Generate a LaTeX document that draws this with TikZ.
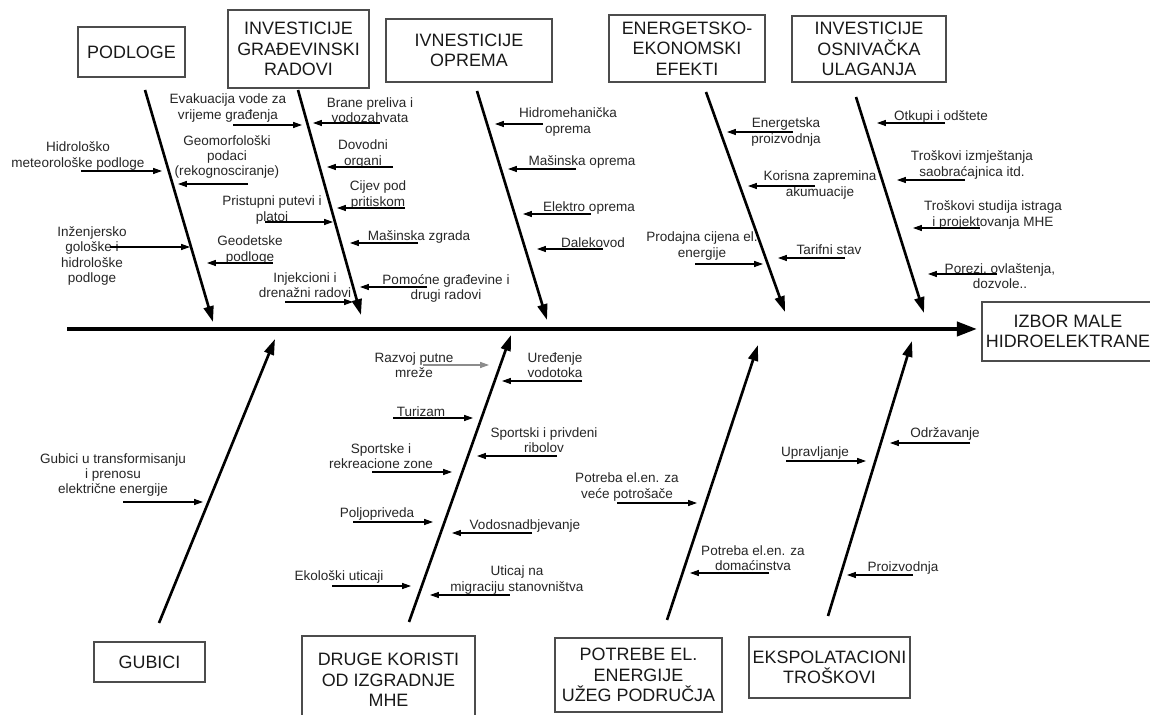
\documentclass[tikz,border=0pt]{standalone}
\usepackage{fontspec}
\setmainfont{Liberation Sans}
\usetikzlibrary{arrows.meta}
\tikzset{
  box/.style={draw=black!70, line width=0.7pt, align=center, inner sep=0pt, text=black!90, font=\fontsize{10.2}{11.6}\selectfont},
  lbl/.style={align=center, inner sep=0pt, text=black!85, font=\fontsize{7.7}{8.6}\selectfont},
  bone/.style={line width=1.5pt, -{Triangle[length=9pt,width=5.6pt]}},
  cause/.style={line width=0.6pt, -{Triangle[length=5pt,width=3.4pt]}},
  spine/.style={line width=2.3pt, -{Triangle[length=11.5pt,width=8pt]}}
}

\begin{document}
\begin{tikzpicture}[x=0.02cm, y=-0.02cm]
\useasboundingbox[fill=white] (0,0) rectangle (1150,715);
% kategorije
\node[box, minimum width=2.14cm, minimum height=1.00cm] (podloge) at (131.5,52) {PODLOGE};
\node[box, minimum width=2.82cm, minimum height=1.56cm] (gradj) at (298.5,49) {INVESTICIJE\\GRAĐEVINSKI\\RADOVI};
\node[box, minimum width=3.32cm, minimum height=1.26cm] (oprema) at (469,50.5) {IVNESTICIJE\\OPREMA};
\node[box, minimum width=3.12cm, minimum height=1.34cm] (efekti) at (687,48.5) {ENERGETSKO-\\EKONOMSKI\\EFEKTI};
\node[box, minimum width=3.08cm, minimum height=1.32cm] (osniv) at (869,49) {INVESTICIJE\\OSNIVAČKA\\ULAGANJA};
\node[box, minimum width=3.44cm, minimum height=1.18cm] (izbor) at (1068,331.5) {IZBOR MALE\\HIDROELEKTRANE};
\node[box, minimum width=2.22cm, minimum height=0.80cm] (gubici) at (149.5,662) {GUBICI};
\node[box, minimum width=3.46cm, minimum height=1.76cm] (druge) at (388.5,680) {DRUGE KORISTI\\OD IZGRADNJE\\MHE};
\node[box, minimum width=3.34cm, minimum height=1.48cm] (potrebe) at (638.5,675) {POTREBE EL.\\ENERGIJE\\UŽEG PODRUČJA};
\node[box, minimum width=3.22cm, minimum height=1.22cm] (ekspl) at (829.5,667.5) {EKSPOLATACIONI\\TROŠKOVI};

% kosti
\coordinate (s0) at (67,329);
\coordinate (s1) at (977,329);
\coordinate (a1) at (145,90);  \coordinate (a2) at (213,322);
\coordinate (b1) at (298,90);  \coordinate (b2) at (361,315);
\coordinate (c1) at (477,91);  \coordinate (c2) at (547,320);
\coordinate (d1) at (706,92);  \coordinate (d2) at (785,312);
\coordinate (e1) at (856,97);  \coordinate (e2) at (924,313);
\coordinate (f1) at (159,623); \coordinate (f2) at (275,339);
\coordinate (g1) at (409,622); \coordinate (g2) at (511,335);
\coordinate (h1) at (667,620); \coordinate (h2) at (758,345);
\coordinate (i1) at (828,616); \coordinate (i2) at (912,341);
\draw[spine] (s0) -- (s1);
\foreach \p in {a,b,c,d,e,f,g,h,i}
  \draw[bone] (\p1) -- (\p2);

% podloge
\node[lbl] (hidro) at (78,156) {Hidrološko\\meteorološke podloge};
\node[lbl] (geomorf) at (227,157) {Geomorfološki\\podaci\\(rekognosciranje)};
\node[lbl] (inzenj) at (92,256) {Inženjersko\\gološke i\\hidrološke\\podloge};
\node[lbl] (geodet) at (250,250) {Geodetske\\podloge};
\coordinate (a11) at (81,171);  \coordinate (a12) at (162,171);
\coordinate (a21) at (248,184); \coordinate (a22) at (178,184);
\coordinate (a31) at (110,247); \coordinate (a32) at (190,247);
\coordinate (a41) at (273,263); \coordinate (a42) at (207,263);
% gradjevinski radovi
\node[lbl] (evak) at (228,108) {Evakuacija vode za\\vrijeme građenja};
\node[lbl] (pristup) at (272,210) {Pristupni putevi i\\platoi};
\node[lbl] (injek) at (305,285) {Injekcioni i\\drenažni radovi};
\node[lbl] (brane) at (370,110) {Brane preliva i\\vodozahvata};
\node[lbl] (dovod) at (363,154) {Dovodni\\organi};
\node[lbl] (cijev) at (378,195) {Cijev pod\\pritiskom};
\node[lbl] (zgrada) at (419,237) {Mašinska zgrada};
\node[lbl] (pomoc) at (446,288) {Pomoćne građevine i\\drugi radovi};
\coordinate (b11) at (233,125); \coordinate (b12) at (302,125);
\coordinate (b21) at (265,222); \coordinate (b22) at (333,222);
\coordinate (b31) at (285,302); \coordinate (b32) at (353,302);
\coordinate (b41) at (380,123); \coordinate (b42) at (313,123);
\coordinate (b51) at (393,167); \coordinate (b52) at (327,167);
\coordinate (b61) at (405,208); \coordinate (b62) at (337,208);
\coordinate (b71) at (418,243); \coordinate (b72) at (350,243);
\coordinate (b81) at (427,287); \coordinate (b82) at (360,287);
% oprema
\node[lbl] (hmeh) at (568,122) {Hidromehanička\\oprema};
\node[lbl] (masop) at (582,162) {Mašinska oprema};
\node[lbl] (elektro) at (589,208) {Elektro oprema};
\node[lbl] (dalek) at (593,243) {Dalekovod};
\coordinate (c11) at (543,124); \coordinate (c12) at (495,124);
\coordinate (c21) at (576,169); \coordinate (c22) at (508,169);
\coordinate (c31) at (591,214); \coordinate (c32) at (523,214);
\coordinate (c41) at (603,249); \coordinate (c42) at (537,249);
% efekti
\node[lbl] (prodaj) at (702,246) {Prodajna cijena el.\\energije};
\node[lbl] (eproiz) at (786,132) {Energetska\\proizvodnja};
\node[lbl] (korisna) at (820,185) {Korisna zapremina\\akumuacije};
\node[lbl] (tarif) at (829,250) {Tarifni stav};
\coordinate (d11) at (695,264); \coordinate (d12) at (763,264);
\coordinate (d21) at (793,132); \coordinate (d22) at (727,132);
\coordinate (d31) at (815,186); \coordinate (d32) at (748,186);
\coordinate (d41) at (845,258); \coordinate (d42) at (778,258);
% osnivacka ulaganja
\node[lbl] (otkup) at (941,117) {Otkupi i odštete};
\node[lbl] (izmj) at (972,165) {Troškovi izmještanja\\saobraćajnica itd.};
\node[lbl] (studij) at (993,215) {Troškovi studija istraga\\i projektovanja MHE};
\node[lbl] (porez) at (1000,276) {Porezi, ovlaštenja,\\dozvole..};
\coordinate (e11) at (945,123); \coordinate (e12) at (877,123);
\coordinate (e21) at (965,180); \coordinate (e22) at (897,180);
\coordinate (e31) at (980,228); \coordinate (e32) at (913,228);
\coordinate (e41) at (997,274); \coordinate (e42) at (928,274);
% gubici
\node[lbl] (transf) at (113,475) {Gubici u transformisanju\\i prenosu\\električne energije};
\coordinate (f11) at (123,502); \coordinate (f12) at (203,502);
% druge koristi
\node[lbl] (razvoj) at (414,365) {Razvoj putne\\mreže};
\node[lbl] (uredj) at (555,365) {Uređenje\\vodotoka};
\node[lbl] (turiz) at (421,412) {Turizam};
\node[lbl] (ribolov) at (544,440) {Sportski i privdeni\\ribolov};
\node[lbl] (zone) at (381,456) {Sportske i\\rekreacione zone};
\node[lbl] (poljo) at (377,514) {Poljopriveda};
\node[lbl] (vodos) at (525,526) {Vodosnadbjevanje};
\node[lbl] (ekol) at (339,577) {Ekološki uticaji};
\node[lbl] (migr) at (517,580) {Uticaj na\\migraciju stanovništva};
\coordinate (g11) at (582,381); \coordinate (g12) at (502,381);
\coordinate (g21) at (393,418); \coordinate (g22) at (473,418);
\coordinate (g31) at (557,456); \coordinate (g32) at (477,456);
\coordinate (g41) at (372,472); \coordinate (g42) at (452,472);
\coordinate (g51) at (353,522); \coordinate (g52) at (433,522);
\coordinate (g61) at (532,533); \coordinate (g62) at (452,533);
\coordinate (g71) at (332,586); \coordinate (g72) at (411,586);
\coordinate (g81) at (510,595); \coordinate (g82) at (430,595);
\coordinate (g91) at (423,365); \coordinate (g92) at (489,365);
% potrebe
\node[lbl] (veci) at (627,487) {Potreba el.en. za\\veće potrošače};
\node[lbl] (domac) at (753,558) {Potreba el.en. za\\domaćinstva};
\coordinate (h11) at (617,503); \coordinate (h12) at (697,503);
\coordinate (h21) at (769,573); \coordinate (h22) at (690,573);
% eksploatacija
\node[lbl] (uprav) at (815,453) {Upravljanje};
\node[lbl] (odrz) at (945,434) {Održavanje};
\node[lbl] (proizv) at (903,568) {Proizvodnja};
\coordinate (i11) at (786,461); \coordinate (i12) at (866,461);
\coordinate (i21) at (970,443); \coordinate (i22) at (890,443);
\coordinate (i31) at (913,575); \coordinate (i32) at (847,575);

\foreach \p/\n in {a/4,b/8,c/4,d/4,e/4,f/1,g/8,h/2,i/3}
  \foreach \k in {1,...,\n}
    \draw[cause] (\p\k1) -- (\p\k2);
\draw[cause, black!45] (g91) -- (g92);
\end{tikzpicture}
\end{document}
